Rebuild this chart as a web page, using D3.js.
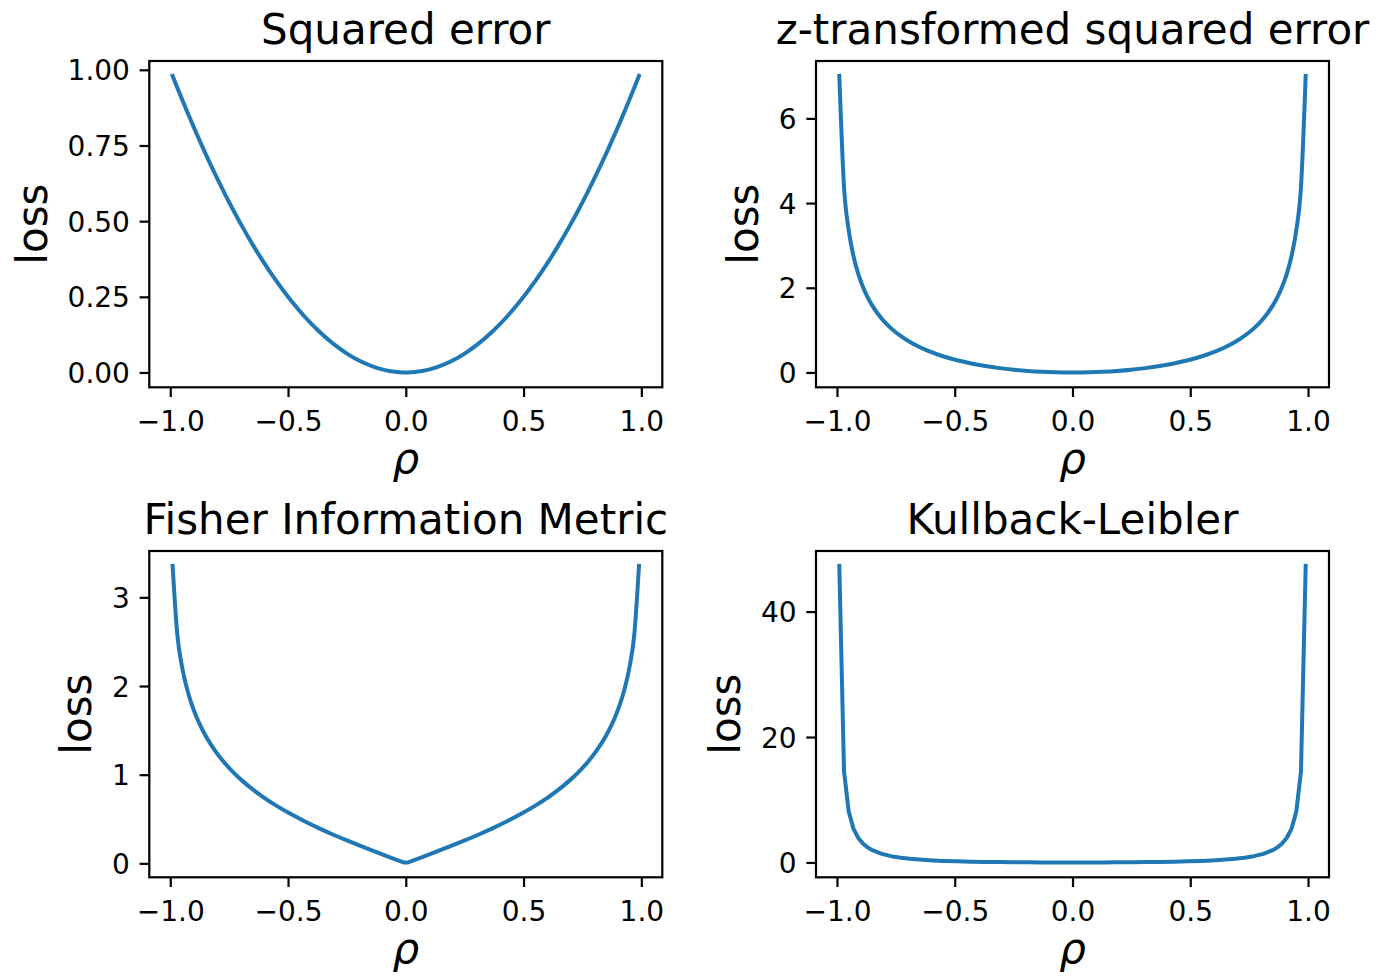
<!DOCTYPE html>
<html>
<head>
<meta charset="utf-8">
<script src="https://cdn.jsdelivr.net/npm/d3@7"></script>
<style>
  html, body { margin: 0; padding: 0; background: #ffffff; }
  svg { display: block; }
  text { font-family: "DejaVu Sans", sans-serif; fill: #000; }
</style>
</head>
<body>
<svg id="fig" width="1389" height="976"></svg>
<script>
// Correlation values sampled along each curve
const rho = [-0.99,-0.97,-0.95,-0.93,-0.91,-0.89,-0.87,-0.85,-0.81,-0.77,-0.73,-0.69,-0.65,-0.61,-0.55,-0.49,-0.43,-0.37,-0.31,-0.25,-0.19,-0.13,-0.07,-0.01,
             0.01,0.07,0.13,0.19,0.25,0.31,0.37,0.43,0.49,0.55,0.61,0.65,0.69,0.73,0.77,0.81,0.85,0.87,0.89,0.91,0.93,0.95,0.97,0.99];

// Loss values for each panel
const squaredLoss = [0.9801,0.9409,0.9025,0.8649,0.8281,0.7921,0.7569,0.7225,0.6561,0.5929,0.5329,0.4761,0.4225,0.3721,0.3025,0.2401,0.1849,0.1369,0.0961,0.0625,0.0361,0.0169,0.0049,0.0001,
                     0.0001,0.0049,0.0169,0.0361,0.0625,0.0961,0.1369,0.1849,0.2401,0.3025,0.3721,0.4225,0.4761,0.5329,0.5929,0.6561,0.7225,0.7569,0.7921,0.8281,0.8649,0.9025,0.9409,0.9801];
const zLoss = [7.0048,4.3777,3.3554,2.7503,2.3333,2.0219,1.7771,1.5779,1.2702,1.0411,0.8625,0.7190,0.6011,0.5026,0.3824,0.2874,0.2115,0.1509,0.1027,0.0652,0.0370,0.0171,0.0049,0.0001,
               0.0001,0.0049,0.0171,0.0370,0.0652,0.1027,0.1509,0.2115,0.2874,0.3824,0.5026,0.6011,0.7190,0.8625,1.0411,1.2702,1.5779,1.7771,2.0219,2.3333,2.7503,3.3554,4.3777,7.0048];
const fisherLoss = [3.3553,2.5784,2.2171,1.9790,1.8011,1.6591,1.5407,1.4392,1.2714,1.1354,1.0208,0.9217,0.8343,0.7558,0.6511,0.5583,0.4744,0.3975,0.3257,0.2581,0.1935,0.1311,0.0702,0.0100,
                    0.0100,0.0702,0.1311,0.1935,0.2581,0.3257,0.3975,0.4744,0.5583,0.6511,0.7558,0.8343,0.9217,1.0208,1.1354,1.2714,1.4392,1.5407,1.6591,1.8011,1.9790,2.2171,2.5784,3.3553];
const klLoss = [47.2927,14.5062,8.0925,5.4011,3.9369,3.0247,2.4064,1.9626,1.3741,1.0071,0.7603,0.5855,0.4571,0.3599,0.2536,0.1787,0.1246,0.0850,0.0558,0.0344,0.0191,0.0087,0.0025,0.00005,
                0.00005,0.0025,0.0087,0.0191,0.0344,0.0558,0.0850,0.1246,0.1787,0.2536,0.3599,0.4571,0.5855,0.7603,1.0071,1.3741,1.9626,2.4064,3.0247,3.9369,5.4011,8.0925,14.5062,47.2927];

// Titles and tick values
const titles = ["Squared error", "z-transformed squared error", "Fisher Information Metric", "Kullback-Leibler"];
const xTicks = [-1.0, -0.5, 0.0, 0.5, 1.0];
const squaredTicks = [0, 0.25, 0.5, 0.75, 1.0];
const zTicks = [0, 2, 4, 6];
const fisherTicks = [0, 1, 2, 3];
const klTicks = [0, 20, 40];

// mode: "smooth" = monotone spline, "cusp" = monotone on each side of rho = 0, "linear" = polyline
const panels = [
  { title: titles[0], values: squaredLoss, ticks: squaredTicks, fmt: ".2f", col: 0, row: 0, mode: "smooth" },
  { title: titles[1], values: zLoss,       ticks: zTicks,       fmt: "d",   col: 1, row: 0, mode: "smooth" },
  { title: titles[2], values: fisherLoss,  ticks: fisherTicks,  fmt: "d",   col: 0, row: 1, mode: "cusp" },
  { title: titles[3], values: klLoss,      ticks: klTicks,      fmt: "d",   col: 1, row: 1, mode: "linear" }
];

// Grid geometry
const colX = [149.3, 816.0];
const rowY = [61.0, 551.0];
const axW = 513, axH = 326.3;
const tickFont = 28, labelFont = 42;
const tickLen = 9.7, tickPad = 9.7, labelPad = 11.1;
const lineColor = "#1f77b4";

const svg = d3.select("#fig");

// Padded extent, 5% each side
function padded(arr) {
  const [lo, hi] = d3.extent(arr);
  const m = (hi - lo) * 0.05;
  return [lo - m, hi + m];
}

panels.forEach(p => {
  const x0 = colX[p.col], y0 = rowY[p.row];
  const g = svg.append("g").attr("transform", `translate(${x0},${y0})`);

  const x = d3.scaleLinear().domain(padded(rho)).range([0, axW]);
  const y = d3.scaleLinear().domain(padded(p.values)).range([axH, 0]);

  const pts = rho.map((r, i) => [r, p.values[i]]);
  const mk = curve => d3.line().x(d => x(d[0])).y(d => y(d[1])).curve(curve);

  let pathD;
  if (p.mode === "smooth") {
    pathD = mk(d3.curveMonotoneX)(pts);
  } else if (p.mode === "cusp") {
    const left = pts.filter(d => d[0] < 0);
    const right = pts.filter(d => d[0] > 0);
    const smooth = mk(d3.curveMonotoneX);
    pathD = smooth(left) + smooth(right).replace(/^M/, "L");
  } else {
    pathD = mk(d3.curveLinear)(pts);
  }

  // Curve
  g.append("path")
    .attr("d", pathD)
    .attr("fill", "none")
    .attr("stroke", lineColor)
    .attr("stroke-width", 4.0)
    .attr("stroke-linejoin", "round")
    .attr("stroke-linecap", "square");

  // Bottom axis
  const xa = g.append("g").attr("transform", `translate(0,${axH})`)
    .call(d3.axisBottom(x).tickValues(xTicks).tickFormat(d3.format(".1f"))
      .tickSize(tickLen).tickPadding(tickPad));
  xa.select(".domain").remove();
  xa.selectAll(".tick line").attr("stroke", "#000").attr("stroke-width", 2.2);
  xa.selectAll(".tick text")
    .attr("y", 44).attr("dy", 0)
    .style("font-size", tickFont + "px").style("font-family", "DejaVu Sans").attr("fill", "#000");

  // Left axis
  const ya = g.append("g")
    .call(d3.axisLeft(y).tickValues(p.ticks).tickFormat(d3.format(p.fmt))
      .tickSize(tickLen).tickPadding(tickPad));
  ya.select(".domain").remove();
  ya.selectAll(".tick line").attr("stroke", "#000").attr("stroke-width", 2.2);
  ya.selectAll(".tick text")
    .attr("dy", "0.36em")
    .style("font-size", tickFont + "px").style("font-family", "DejaVu Sans").attr("fill", "#000");

  // Frame
  g.append("rect")
    .attr("x", 0).attr("y", 0).attr("width", axW).attr("height", axH)
    .attr("fill", "none").attr("stroke", "#000").attr("stroke-width", 2.2);

  // Title
  g.append("text")
    .attr("x", axW / 2).attr("y", -17)
    .attr("text-anchor", "middle")
    .style("font-size", labelFont + "px")
    .text(p.title);

  // X label
  g.append("text")
    .attr("x", axW / 2).attr("y", axH + 86)
    .attr("text-anchor", "middle")
    .style("font-size", labelFont + "px")
    .style("font-style", "italic")
    .text("ρ");

  // Y label, placed left of the widest tick label
  let maxW = 0;
  ya.selectAll(".tick text").each(function () {
    maxW = Math.max(maxW, this.getBBox().width);
  });
  const lx = -(tickLen + tickPad + maxW + labelPad + 0.236 * labelFont);
  g.append("text")
    .attr("transform", `translate(${lx},${axH / 2}) rotate(-90)`)
    .attr("text-anchor", "middle")
    .style("font-size", labelFont + "px")
    .text("loss");
});
</script>
</body>
</html>
